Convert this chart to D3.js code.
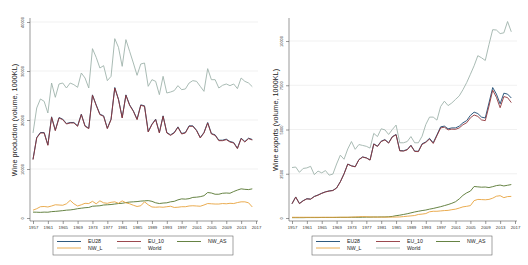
<!DOCTYPE html>
<html>
<head>
<meta charset="utf-8">
<script src="https://cdn.jsdelivr.net/npm/d3@7"></script>
<style>
    body { margin: 0; background: #fff; }
    svg { display: block; font-family: "Liberation Sans", Arial, sans-serif; }
</style>
</head>
<body>
<svg id="chart" width="528" height="265"></svg>
<script>
let svg = d3.select("#chart");

// years 1957..2016, one value per year
let years = d3.range(1957, 2017);
let xTickLabels = [1957, 1961, 1965, 1969, 1973, 1977, 1981, 1985, 1989, 1993, 1997, 2001, 2005, 2009, 2013, 2017];
let prodTicks = [0, 10000, 20000, 30000, 40000];
let expTicks = [0, 2500, 5000, 7500, 10000];

let seriesNames = ["EU28", "EU_10", "NW_AS", "NW_L", "World"];

// -------------------- PRODUCTION (1000KL) -------------------- //
let prodEU28 = [12000, 16420, 17450, 17440, 14930, 20650, 17920, 20510, 20170, 19280, 19490, 19490, 18810, 21190, 18810, 18330, 25130, 23090, 21190, 20850, 18330, 20170, 26630, 24250, 20510, 25130, 23090, 21870, 20170, 23090, 22890, 17650, 19150, 20170, 17450, 20850, 17450, 16970, 17450, 18600, 17240, 17450, 18810, 18810, 17920, 16430, 17450, 19490, 17240, 16970, 15880, 15880, 16090, 15610, 15410, 14250, 16290, 15610, 16290, 16020];
let prodEU10 = [11900, 16330, 17350, 17350, 14830, 20540, 17820, 20410, 20070, 19180, 19390, 19390, 18710, 21090, 18710, 18230, 25030, 22990, 21090, 20750, 18230, 20070, 26530, 24150, 20410, 25030, 22990, 21770, 20070, 22990, 22790, 17550, 19050, 20070, 17350, 20750, 17350, 16870, 17350, 18500, 17140, 17350, 18710, 18710, 17820, 16330, 17350, 19390, 17140, 16870, 15780, 15780, 15990, 15510, 15310, 14150, 16190, 15510, 16190, 15920];
let prodNWAS = [1200, 1180, 1150, 1200, 1180, 1300, 1350, 1420, 1500, 1600, 1650, 1750, 1900, 2000, 2100, 2150, 2400, 2450, 2500, 2650, 2700, 2750, 2850, 2950, 3000, 3150, 3250, 3300, 3350, 3450, 3500, 3550, 3400, 3100, 2950, 3050, 3100, 3300, 3400, 3700, 3900, 3850, 3950, 4200, 4250, 4350, 4550, 5200, 5100, 4850, 4850, 5050, 5100, 5050, 5400, 5700, 5950, 5850, 5800, 5950];
let prodNWL = [1600, 1900, 2300, 2350, 2250, 2450, 2700, 2650, 2600, 2900, 3600, 2900, 2450, 2700, 3000, 2950, 3400, 2900, 3500, 3100, 3000, 3200, 3300, 3000, 3500, 3100, 2900, 2600, 2350, 2500, 3300, 2700, 2250, 2200, 2250, 2200, 2300, 2400, 2150, 2200, 2300, 2300, 2450, 2500, 2450, 2400, 2650, 2950, 2900, 2850, 2850, 2950, 2900, 3000, 2950, 3150, 3300, 3300, 3100, 2250];
let prodWorld = [17350, 22450, 24290, 23810, 21430, 27550, 24630, 27350, 27550, 26530, 27550, 27210, 26670, 29590, 28570, 26530, 34560, 32790, 30610, 31090, 28030, 28910, 36600, 34830, 30950, 36400, 34020, 31630, 29120, 31430, 31630, 26870, 28230, 27890, 25170, 28910, 25510, 25710, 25990, 27010, 26190, 26330, 27550, 28030, 27890, 26870, 25850, 30480, 28230, 28230, 26530, 27080, 27350, 27010, 27350, 26400, 28570, 27890, 27550, 26800];

// -------------------- EXPORTS (1000KL) -------------------- //
let expEU28 = [810, 1190, 820, 980, 1090, 1070, 1220, 1300, 1400, 1480, 1530, 1560, 1700, 2050, 2500, 3050, 2950, 2900, 3300, 3450, 3400, 3280, 4190, 4060, 4340, 4430, 4250, 4600, 4720, 3810, 3800, 3870, 4110, 3780, 3770, 4190, 4300, 4500, 4250, 4700, 5150, 5190, 5040, 5090, 5090, 5190, 5380, 5500, 5800, 5980, 5900, 5700, 5650, 6500, 7370, 7000, 6450, 7050, 7000, 6780];
let expEU10 = [800, 1180, 810, 970, 1080, 1060, 1210, 1290, 1390, 1470, 1520, 1550, 1690, 2040, 2490, 3040, 2940, 2890, 3290, 3440, 3390, 3270, 4170, 4040, 4320, 4410, 4230, 4580, 4700, 3790, 3780, 3850, 4090, 3760, 3750, 4160, 4270, 4460, 4210, 4650, 5090, 5130, 4980, 5020, 5010, 5090, 5270, 5380, 5660, 5820, 5740, 5540, 5500, 6320, 7220, 6820, 6230, 6860, 6800, 6520];
let expNWAS = [20, 20, 20, 20, 25, 25, 25, 25, 30, 30, 30, 30, 30, 35, 35, 35, 40, 40, 40, 45, 50, 50, 55, 55, 60, 60, 70, 90, 130, 160, 200, 240, 290, 340, 380, 420, 450, 500, 540, 590, 640, 700, 760, 830, 920, 1080, 1280, 1420, 1520, 1780, 1760, 1740, 1750, 1720, 1770, 1830, 1860, 1810, 1850, 1890];
let expNWL = [40, 40, 40, 40, 40, 40, 40, 40, 40, 40, 40, 40, 45, 45, 45, 45, 50, 60, 70, 80, 70, 60, 55, 50, 50, 50, 50, 50, 55, 60, 80, 100, 120, 140, 200, 220, 250, 350, 380, 380, 400, 420, 430, 470, 500, 560, 630, 660, 700, 980, 1050, 1040, 1030, 1050, 1120, 1230, 1260, 1150, 1210, 1220];
let expWorld = [2850, 2880, 2580, 2800, 2830, 2920, 2450, 2650, 2550, 2680, 2420, 2480, 3050, 3550, 3320, 3900, 4320, 3880, 4150, 4100, 4050, 3950, 4780, 4600, 5040, 4980, 4720, 5000, 5250, 4250, 4250, 4320, 4600, 4250, 4250, 4620, 5280, 5700, 5700, 5530, 6300, 6600, 6350, 6500, 6700, 6900, 7250, 7650, 8120, 8600, 9170, 9050, 8900, 9800, 10640, 10620, 10420, 10460, 11100, 10520];

// Stata s2color-like palette
let colors = {
    "EU28": "#1a476f",
    "EU_10": "#90353b",
    "NW_AS": "#55752f",
    "NW_L": "#e8a33d",
    "World": "#9fb3ac"
};

let panels = [
    {
        left: 30, right: 258, top: 18, bottom: 221,
        y0: 218, y1: 22, yMax: 40000, ticks: prodTicks,
        title: "Wine production (volume, 1000KL)", titleX: 15,
        data: [prodEU28, prodEU10, prodNWAS, prodNWL, prodWorld]
    },
    {
        left: 289, right: 517, top: 18, bottom: 221,
        y0: 218, y1: 41, yMax: 10000, ticks: expTicks,
        title: "Wine exports (volume, 1000KL)", titleX: 276,
        data: [expEU28, expEU10, expNWAS, expNWL, expWorld]
    }
];

function drawPanel(p) {
    let g = svg.append("g");

    let x = d3.scaleLinear().domain([1957, 2017]).range([p.left + 3, p.left + 3 + 223]);
    let y = d3.scaleLinear().domain([0, p.yMax]).range([p.y0, p.y1]);

    // gridlines
    g.selectAll(".grid")
        .data(p.ticks.slice(1))
        .enter()
        .append("line")
        .attr("x1", p.left)
        .attr("x2", p.right)
        .attr("y1", d => y(d))
        .attr("y2", d => y(d))
        .attr("stroke", "#eeeeee")
        .attr("stroke-width", 0.8);

    // y axis
    let yAxis = d3.axisLeft(y).tickValues(p.ticks).tickSize(3).tickPadding(2).tickFormat(d3.format("d"));
    let ya = g.append("g").attr("transform", `translate(${p.left},0)`).call(yAxis);
    ya.select(".domain").attr("d", `M-0,${p.top}V${p.bottom}`);
    ya.selectAll("text")
        .attr("transform", "rotate(-90)")
        .attr("x", 0)
        .attr("y", -6)
        .attr("dy", 0)
        .attr("text-anchor", "middle")
        .style("font-size", "4px");

    // x axis
    let xAxis = d3.axisBottom(x).tickValues(xTickLabels).tickSize(3).tickPadding(2).tickFormat(d3.format("d"));
    let xa = g.append("g").attr("transform", `translate(0,${p.bottom})`).call(xAxis);
    xa.select(".domain").attr("d", `M${p.left},0H${p.right}`);
    xa.selectAll("text").style("font-size", "4.3px");

    g.selectAll(".domain, .tick line").attr("stroke", "#555").attr("stroke-width", 0.6);
    g.selectAll(".tick text").attr("fill", "#333");

    // y title
    g.append("text")
        .attr("transform", `translate(${p.titleX},120) rotate(-90)`)
        .attr("text-anchor", "middle")
        .attr("dominant-baseline", "middle")
        .style("font-size", "7.3px")
        .attr("fill", "#222")
        .text(p.title);

    // lines
    let line = d3.line()
        .x((d, i) => x(years[i]))
        .y(d => y(d));

    p.data.forEach(function (s, k) {
        g.append("path")
            .datum(s)
            .attr("d", line)
            .attr("fill", "none")
            .attr("stroke", colors[seriesNames[k]])
            .attr("stroke-width", 0.9)
            .attr("stroke-linejoin", "round");
    });

    // legend
    let lx = p.left + 23, ly = 236;
    let lg = g.append("g").attr("transform", `translate(${lx},${ly})`);
    lg.append("rect")
        .attr("width", 180)
        .attr("height", 19)
        .attr("fill", "#fff")
        .attr("stroke", "#666")
        .attr("stroke-width", 0.6);

    let cols = [4, 64, 124];
    let rows = [5.5, 12];
    seriesNames.forEach(function (name, k) {
        let cx = cols[k % 3], cy = rows[Math.floor(k / 3)];
        lg.append("line")
            .attr("x1", cx)
            .attr("x2", cx + 24)
            .attr("y1", cy)
            .attr("y2", cy)
            .attr("stroke", colors[name])
            .attr("stroke-width", 0.9);
        lg.append("text")
            .attr("x", cx + 31)
            .attr("y", cy)
            .attr("dy", "0.35em")
            .style("font-size", "5.2px")
            .attr("fill", "#222")
            .text(name);
    });
}

panels.forEach(drawPanel);
</script>
</body>
</html>
